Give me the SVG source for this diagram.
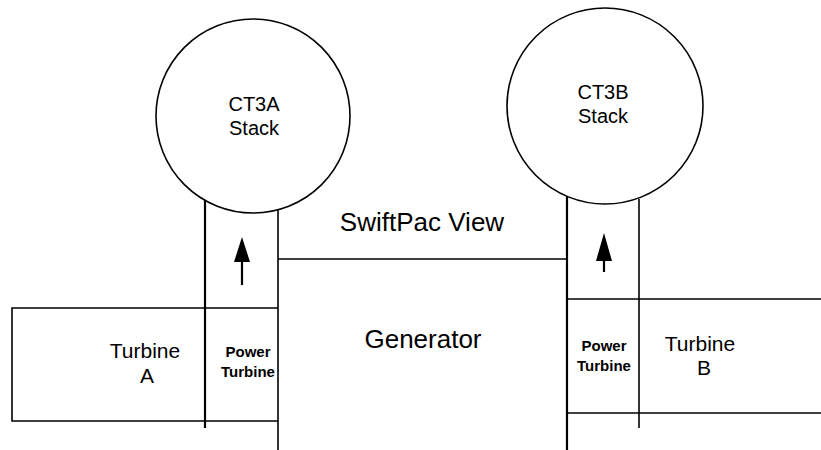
<svg xmlns="http://www.w3.org/2000/svg" width="821" height="450" viewBox="0 0 821 450">
<defs>
<style>
.ln{stroke:#000;stroke-width:1.6;fill:none}
.thk{stroke:#000;stroke-width:2.2;fill:none}
.circ{stroke:#000;stroke-width:1.6;fill:#fff}
text{font-family:"Liberation Sans",Arial,sans-serif;fill:#000;text-anchor:middle}
.big{font-size:26px}
.mid{font-size:20px}
.tb{font-size:21px}
.pt{font-size:15px;font-weight:bold}
</style>
<marker id="ah" viewBox="0 0 10 10" refX="9" refY="5" markerWidth="8" markerHeight="8" markerUnits="userSpaceOnUse" orient="auto">
<path d="M0,0 L10,5 L0,10 z" fill="#000"/>
</marker>
</defs>
<rect width="821" height="450" fill="#fff"/>
<g id="connectors">
<line class="thk" x1="205" y1="199" x2="205" y2="428"/>
<line class="ln" x1="278" y1="208" x2="278" y2="450"/>
<line class="ln" x1="278" y1="259" x2="567" y2="259"/>
<line class="thk" x1="567" y1="190" x2="567" y2="450"/>
<line class="ln" x1="639" y1="199" x2="639" y2="428"/>
<path d="M242,285 L242,260" class="thk"/>
<path d="M234,262 L242,237 L250,262 z" fill="#000"/>
<path d="M604,272 L604,258" class="thk"/>
<path d="M596,261 L604,233 L612,261 z" fill="#000"/>
</g>
<g id="stackA">
<circle class="circ" cx="253" cy="116" r="97"/>
<text class="mid" x="254" y="111">CT3A</text>
<text class="mid" x="254" y="135">Stack</text>
</g>
<g id="stackB">
<circle class="circ" cx="605" cy="106" r="98"/>
<text class="mid" x="603" y="99">CT3B</text>
<text class="mid" x="603" y="123">Stack</text>
</g>
<g id="turbineA">
<path class="ln" d="M278,308 L12,308 L12,421 L278,421"/>
<text class="tb" x="145" y="358">Turbine</text>
<text class="tb" x="147" y="383">A</text>
</g>
<g id="powerTurbineA">
<text class="pt" x="248" y="357">Power</text>
<text class="pt" x="248" y="377">Turbine</text>
</g>
<g id="swiftpac">
<text class="big" x="422" y="231">SwiftPac View</text>
</g>
<g id="generator">
<text class="big" x="423" y="348">Generator</text>
</g>
<g id="powerTurbineB">
<text class="pt" x="604" y="351">Power</text>
<text class="pt" x="604" y="371">Turbine</text>
</g>
<g id="turbineB">
<line class="ln" x1="567" y1="299" x2="821" y2="299"/>
<line class="ln" x1="567" y1="413" x2="821" y2="413"/>
<text class="tb" x="700" y="351">Turbine</text>
<text class="tb" x="704" y="375">B</text>
</g>
</svg>
